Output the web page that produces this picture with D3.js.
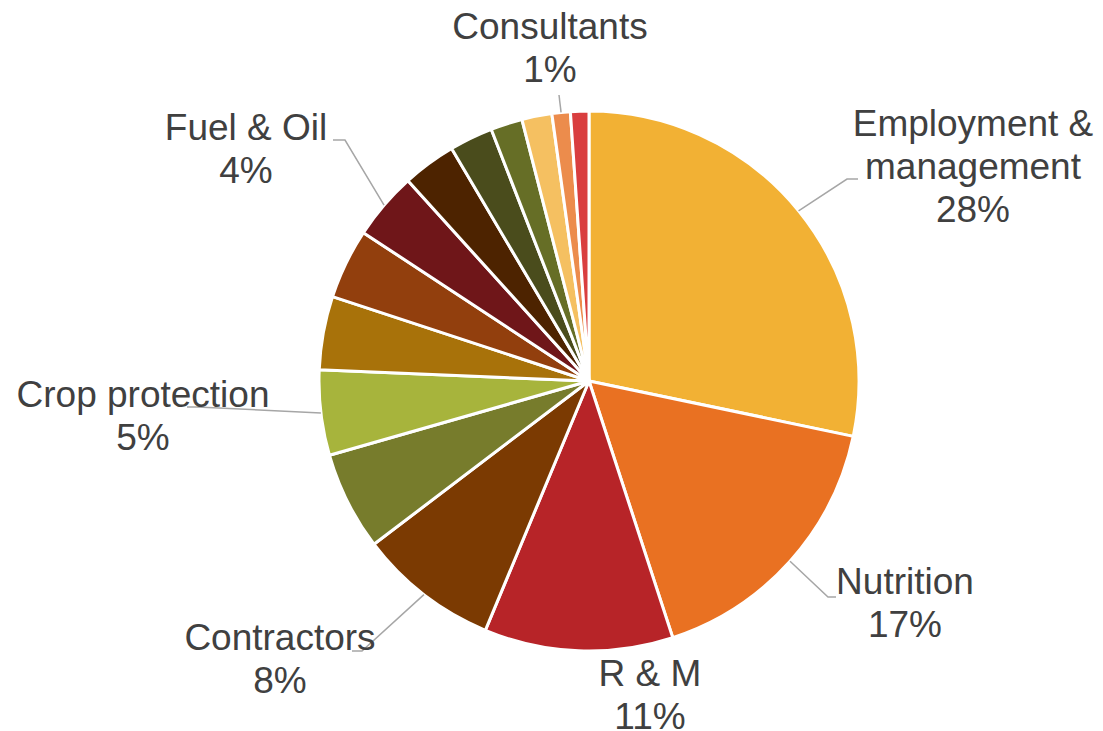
<!DOCTYPE html>
<html>
<head>
<meta charset="utf-8">
<script src="https://cdn.jsdelivr.net/npm/d3@7"></script>
<style>
    body { margin: 0; background: #fff; }
    #chart-area { width: 1103px; height: 731px; }
    .pie-label { font-family: "Liberation Sans", Arial, sans-serif; font-size: 37px; fill: #404040; }
</style>
</head>
<body>
<div id="chart-area"></div>
<script>
// cost categories, clockwise from 12 o'clock
const categories = [
    "Employment & management", "Nutrition", "R & M", "Contractors", "Seed",
    "Crop protection", "Machinery", "Rent", "Fuel & Oil", "Electricity",
    "Insurance", "Water", "Packaging", "Consultants", "Other"
];
// share of total cost (%)
const shares = [28.3, 16.7, 11.3, 8.4, 5.9, 5.1, 4.4, 4.2, 4.05, 3.2, 2.6, 1.9, 1.8, 1.1, 1.1];
const colours = [
    "#f2b134", "#e97122", "#b72428", "#7b3a02", "#777c2c",
    "#a7b43c", "#a8720a", "#923f0d", "#6f1619", "#4d2300",
    "#4a4c1c", "#666e26", "#f5c061", "#ec8c4c", "#d93e3f"
];

// label text lines (percent line is added from the data)
const labelLines = {
    "Employment & management": ["Employment &", "management"],
    "Nutrition": ["Nutrition"],
    "R & M": ["R & M"],
    "Contractors": ["Contractors"],
    "Crop protection": ["Crop protection"],
    "Fuel & Oil": ["Fuel & Oil"],
    "Consultants": ["Consultants"]
};

// label placement: text centre x, first baseline y, leader elbow + end
const labelLayout = {
    "Employment & management": {x: 973, y: 136, elbow: [847, 179], end: [858, 179]},
    "Nutrition": {x: 905, y: 594, elbow: [828, 597], end: [836, 597]},
    "R & M": {x: 650, y: 686},
    "Contractors": {x: 280, y: 650, elbow: [362, 651], end: [352, 651]},
    "Crop protection": {x: 143, y: 407, elbow: [197, 407], end: [187, 407]},
    "Fuel & Oil": {x: 246, y: 140, elbow: [345, 140], end: [333, 140]},
    "Consultants": {x: 550, y: 39, elbow: [559, 95], end: [559, 95]}
};

const width = 1103, height = 731;
const cx = 589, cy = 381, radius = 270;
const lineHeight = 43;

let svg = d3.select("#chart-area").append("svg")
    .attr("width", width)
    .attr("height", height);

let data = categories.map((c, i) => ({name: c, value: shares[i], colour: colours[i]}));
let total = d3.sum(shares);

let pie = d3.pie()
    .sort(null)
    .value(d => d.value);

let arc = d3.arc()
    .innerRadius(0)
    .outerRadius(radius);

// point on the rim for leader lines
let rimArc = d3.arc()
    .innerRadius(radius)
    .outerRadius(radius);

let arcs = pie(data);

let g = svg.append("g")
    .attr("transform", `translate(${cx}, ${cy})`);

g.selectAll("path.slice")
    .data(arcs)
    .enter()
    .append("path")
    .attr("class", "slice")
    .attr("d", arc)
    .attr("fill", d => d.data.colour)
    .attr("stroke", "#fff")
    .attr("stroke-width", 3)
    .attr("stroke-linejoin", "round");

let labelled = arcs.filter(d => labelLayout[d.data.name]);

// leader lines
svg.selectAll("polyline.leader")
    .data(labelled.filter(d => labelLayout[d.data.name].elbow))
    .enter()
    .append("polyline")
    .attr("class", "leader")
    .attr("points", d => {
        let lay = labelLayout[d.data.name];
        let p = rimArc.centroid(d);
        return [[cx + p[0], cy + p[1]], lay.elbow, lay.end].map(q => q.join(",")).join(" ");
    })
    .attr("fill", "none")
    .attr("stroke", "#a6a6a6")
    .attr("stroke-width", 1.5);

// labels
let fmt = d3.format(".0%");
let labels = svg.selectAll("text.pie-label")
    .data(labelled)
    .enter()
    .append("text")
    .attr("class", "pie-label")
    .attr("text-anchor", "middle");

labels.each(function(d) {
    let lay = labelLayout[d.data.name];
    let lines = labelLines[d.data.name].concat([fmt(d.data.value / total)]);
    d3.select(this).selectAll("tspan")
        .data(lines)
        .enter()
        .append("tspan")
        .attr("x", lay.x)
        .attr("y", (t, i) => lay.y + i * lineHeight)
        .text(t => t);
});
</script>
</body>
</html>
